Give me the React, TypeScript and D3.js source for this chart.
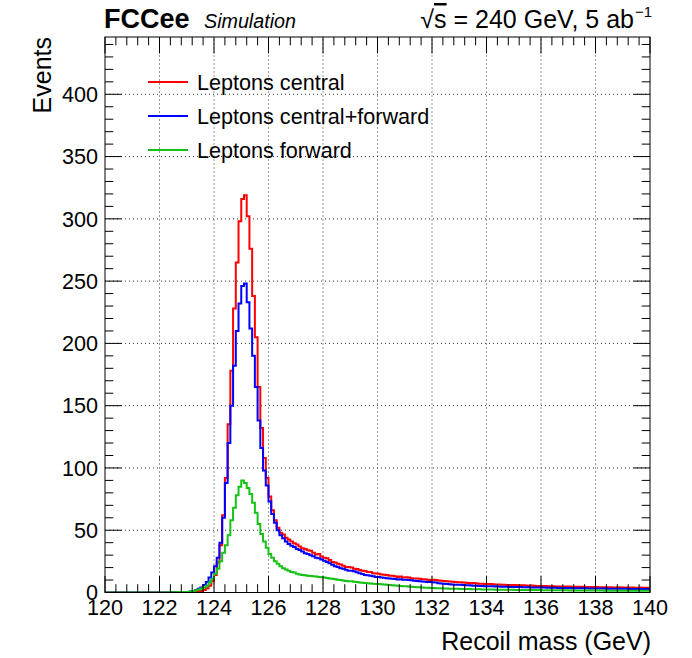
import React from 'react';
import * as d3 from 'd3';

const xMin = 120;
const xMax = 140;
const yMax = 446;
const xMajorTicks = [120, 122, 124, 126, 128, 130, 132, 134, 136, 138, 140];
const yMajorTicks = [0, 50, 100, 150, 200, 250, 300, 350, 400];
const seriesLabels = ['Leptons central', 'Leptons central+forward', 'Leptons forward'];
const seriesColors = ['#ff0000', '#0000ff', '#16c216'];

// 0.1 GeV bins from 120 to 140 (rows = 1 GeV)
const central = [
  0, 0, 0, 0, 0, 0, 0, 0, 0, 0,
  0, 0, 0, 0, 0, 0, 0, 0, 0, 0,
  0, 0, 0, 0, 0, 0, 0, 0, 0.1, 0.1,
  0, 0.2, 0.3, 0.5, 0.8, 1.2, 2, 3.5, 5.5, 9,
  14, 24, 38, 62, 92, 135, 178, 228, 265, 298,
  316, 319, 302, 276, 238, 205, 165, 132, 108, 92,
  77, 66, 58, 52, 48, 46.5, 44, 42.5, 41, 39.5,
  38.5, 37, 35.5, 35, 34, 33.5, 32, 30.5, 31, 29,
  28, 27.5, 26, 24.5, 24, 23, 22.5, 21.5, 20.5, 20.5,
  20, 19, 18.8, 18, 17.5, 17.2, 16.5, 16.4, 15.5, 15.2,
  15, 14.5, 14.2, 14, 13.5, 13.4, 13, 12.5, 12.8, 12,
  12.2, 12, 11.5, 11.3, 11.2, 11, 10.6, 10.7, 10.2, 10.1,
  10.3, 10, 9.6, 9.5, 9.3, 9, 8.9, 8.6, 8.5, 8.3,
  8.2, 8.1, 7.8, 7.6, 7.5, 7.6, 7.2, 7.1, 7, 6.9,
  6.8, 6.9, 6.6, 6.5, 6.5, 6.3, 6.2, 6.1, 6, 6.1,
  6, 5.9, 5.8, 5.8, 5.6, 5.5, 5.6, 5.4, 5.3, 5.3,
  5.3, 5.2, 5.1, 5, 5, 4.9, 4.9, 4.8, 4.8, 4.9,
  4.8, 4.7, 4.6, 4.6, 4.5, 4.6, 4.5, 4.4, 4.4, 4.5,
  4.4, 4.3, 4.3, 4.2, 4.3, 4.2, 4.1, 4.1, 4.2, 4.1,
  4.1, 4, 4, 4.1, 3.9, 3.9, 4, 3.8, 3.8, 3.8,
];

const centralForward = [
  0, 0, 0, 0, 0, 0, 0, 0, 0, 0,
  0, 0, 0, 0, 0, 0, 0, 0, 0, 0.1,
  0, 0.1, 0.1, 0.1, 0.2, 0.2, 0.3, 0.3, 0.4, 0.5,
  0.5, 0.8, 1.2, 2, 3, 4, 6, 8.5, 12, 16,
  21, 28, 40, 60, 88, 120, 150, 182, 210, 232,
  246, 248, 233, 212, 190, 165, 138, 116, 98, 86,
  73, 63, 56, 50, 46, 43.5, 41, 39, 37.5, 36.5,
  35, 34.2, 33, 31.5, 31, 30, 29.2, 28, 27.5, 26.5,
  25.5, 24.5, 23.5, 22.2, 21, 20.5, 19.5, 19, 18.2, 17.5,
  17.5, 17, 16.2, 15.5, 14.8, 14, 13.8, 13.5, 13, 12.5,
  12.5, 12, 11.8, 11.5, 11.2, 11, 10.8, 10.5, 10.6, 10.2,
  10.2, 10, 9.8, 9.5, 9.2, 9.1, 8.8, 8.6, 8.5, 8.4,
  8.2, 8, 7.5, 7.2, 7, 6.8, 6.6, 6.5, 6.3, 6.2,
  6.2, 6, 5.9, 5.8, 5.6, 5.5, 5.4, 5.3, 5.2, 5.1,
  5.1, 5, 5, 4.9, 4.8, 4.7, 4.6, 4.6, 4.5, 4.5,
  4.5, 4.4, 4.4, 4.3, 4.2, 4.2, 4.1, 4.1, 4, 4,
  4, 4, 3.9, 3.9, 3.8, 3.8, 3.7, 3.7, 3.6, 3.6,
  3.6, 3.5, 3.5, 3.5, 3.4, 3.4, 3.4, 3.3, 3.3, 3.3,
  3.3, 3.2, 3.2, 3.2, 3.1, 3.1, 3.1, 3, 3, 3,
  3, 3, 2.9, 2.9, 2.9, 2.9, 2.8, 2.8, 2.8, 2.8,
];

const forward = [
  0, 0, 0, 0, 0, 0, 0, 0, 0, 0,
  0, 0, 0, 0, 0, 0, 0, 0, 0.1, 0.1,
  0.1, 0.1, 0.1, 0.2, 0.2, 0.3, 0.3, 0.4, 0.4, 0.5,
  0.5, 0.8, 1.2, 1.8, 2.5, 3.2, 4, 5.5, 8, 11,
  15, 19, 25, 32, 38, 46, 58, 68, 78, 85,
  90, 88, 84, 79, 72, 64, 55, 47, 41, 36,
  31, 28, 25, 23, 21, 19.5, 18.5, 17.5, 16.5, 16,
  15, 14.5, 14, 13.8, 13.5, 13.3, 13, 12.8, 12.5, 12.2,
  12, 11.7, 11.3, 11, 10.6, 10.3, 10, 9.6, 9.3, 9,
  9, 8.7, 8.4, 8.1, 7.8, 7.6, 7.4, 7.2, 7, 6.9,
  6.8, 6.6, 6.4, 6.2, 6, 5.8, 5.6, 5.4, 5.2, 5.1,
  5, 4.8, 4.6, 4.5, 4.3, 4.2, 4, 3.9, 3.8, 3.7,
  3.6, 3.5, 3.4, 3.4, 3.3, 3.2, 3.1, 3.1, 3, 3,
  2.9, 2.9, 2.8, 2.8, 2.7, 2.7, 2.6, 2.6, 2.5, 2.5,
  2.4, 2.4, 2.4, 2.3, 2.3, 2.3, 2.2, 2.2, 2.2, 2.2,
  2.1, 2.1, 2.1, 2.1, 2, 2, 2, 2, 2, 2,
  1.9, 1.9, 1.9, 1.9, 1.9, 1.8, 1.8, 1.8, 1.8, 1.8,
  1.7, 1.7, 1.7, 1.7, 1.7, 1.7, 1.6, 1.6, 1.6, 1.6,
  1.6, 1.6, 1.6, 1.5, 1.5, 1.5, 1.5, 1.5, 1.5, 1.5,
  1.5, 1.5, 1.4, 1.4, 1.4, 1.4, 1.4, 1.4, 1.4, 1.4,
];

const allSeries = [central, centralForward, forward];
const FONT = "'Liberation Sans', Arial, Helvetica, sans-serif";

export default function App() {
  const W = 692;
  const H = 658;
  const L = 105, R = 650, T = 37, B = 592.5;
  const x = d3.scaleLinear().domain([xMin, xMax]).range([L, R]);
  const y = d3.scaleLinear().domain([0, yMax]).range([B, T]);

  const line = d3
    .line<[number, number]>()
    .x((d) => x(d[0]))
    .y((d) => y(d[1]))
    .curve(d3.curveStepAfter);

  const histPath = (vals: number[]) => {
    const bw = (xMax - xMin) / vals.length;
    const pts: [number, number][] = vals.map((v, i) => [xMin + i * bw, v]);
    pts.push([xMax, vals[vals.length - 1]]);
    return line(pts) || '';
  };

  const xMinor = d3.range(0, 51).map((i) => xMin + i * 0.4);
  const yMinor = d3.range(0, 45).map((i) => i * 10);
  const majLen = 16.5;
  const minLen = 8.3;

  return (
    <svg
      width={W}
      height={H}
      style={{ position: 'absolute', left: 0, top: 0, background: '#fff' }}
      fontFamily={FONT}
    >
      <rect x={0} y={0} width={W} height={H} fill="#fff" />
      <defs>
        <clipPath id="plotclip">
          <rect x={L} y={T} width={R - L} height={B - T} />
        </clipPath>
      </defs>

      {/* grid */}
      <g stroke="#333" strokeWidth={1} strokeDasharray="1,3">
        {xMajorTicks.slice(1, -1).map((t) => (
          <line key={'gx' + t} x1={x(t)} x2={x(t)} y1={B} y2={T} />
        ))}
        {yMajorTicks.slice(1).map((t) => (
          <line key={'gy' + t} x1={L} x2={R} y1={y(t)} y2={y(t)} />
        ))}
      </g>

      {/* histograms */}
      <g clipPath="url(#plotclip)" fill="none" strokeWidth={2}>
        {allSeries.map((s, i) => (
          <path key={i} d={histPath(s)} stroke={seriesColors[i]} />
        ))}
      </g>

      {/* ticks */}
      <g stroke="#000" strokeWidth={1}>
        {xMinor.map((t, i) => {
          const len = i % 5 === 0 ? majLen : minLen;
          return (
            <g key={'xt' + i}>
              <line x1={x(t)} x2={x(t)} y1={B} y2={B - len} />
              <line x1={x(t)} x2={x(t)} y1={T} y2={T + len} />
            </g>
          );
        })}
        {yMinor.map((t, i) => {
          const len = i % 5 === 0 ? majLen : minLen;
          return (
            <g key={'yt' + i}>
              <line x1={L} x2={L + len} y1={y(t)} y2={y(t)} />
              <line x1={R} x2={R - len} y1={y(t)} y2={y(t)} />
            </g>
          );
        })}
      </g>

      {/* frame */}
      <rect x={L} y={T} width={R - L} height={B - T} fill="none" stroke="#000" strokeWidth={1} />

      {/* tick labels */}
      <g fontSize={21.6} fill="#000">
        {xMajorTicks.map((t) => (
          <text key={'xl' + t} x={x(t)} y={615} textAnchor="middle">
            {t}
          </text>
        ))}
        {yMajorTicks.map((t) => (
          <text key={'yl' + t} x={98} y={y(t) + 7.7} textAnchor="end">
            {t}
          </text>
        ))}
      </g>

      {/* axis titles */}
      <text x={651} y={650} textAnchor="end" fontSize={25}>
        Recoil mass (GeV)
      </text>
      <text transform="translate(51,37) rotate(-90)" textAnchor="end" fontSize={25}>
        Events
      </text>

      {/* header */}
      <text x={104} y={28} fontSize={27} fontWeight="bold">
        FCCee
      </text>
      <text x={204} y={28} fontSize={19.7} fontStyle="italic">
        Simulation
      </text>
      <text x={634} y={28} textAnchor="end" fontSize={25}>
        √<tspan style={{ textDecoration: 'overline' }}>s</tspan> = 240 GeV, 5 ab
      </text>
      <text x={635} y={17} fontSize={15}>
        −1
      </text>

      {/* legend */}
      {seriesLabels.map((lab, i) => (
        <g key={'lg' + i}>
          <line x1={148} x2={188} y1={82 + i * 34} y2={82 + i * 34} stroke={seriesColors[i]} strokeWidth={2} />
          <text x={197} y={82 + i * 34 + 7.7} fontSize={21.6}>
            {lab}
          </text>
        </g>
      ))}
    </svg>
  );
}
